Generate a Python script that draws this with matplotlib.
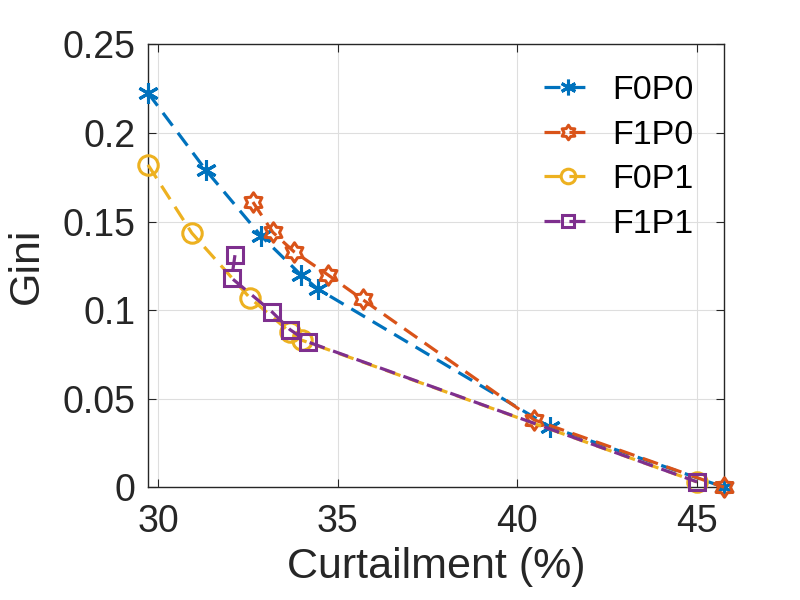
import matplotlib
matplotlib.use("Agg")
from matplotlib import pyplot as plt
from matplotlib.path import Path

plt.rcParams['font.family'] = ['Liberation Sans', 'DejaVu Sans']

# curtailment (%) and Gini for each case
x_f0p0 = [29.72, 31.33, 32.86, 33.97, 34.44, 40.92, 45.75]
y_f0p0 = [0.2226, 0.179, 0.142, 0.120, 0.112, 0.034, 0.0]

x_f1p0 = [32.64, 33.19, 33.78, 34.72, 35.69, 40.47, 45.75]
y_f1p0 = [0.161, 0.144, 0.133, 0.120, 0.106, 0.038, 0.0]

x_f0p1 = [29.72, 30.94, 32.55, 33.67, 34.0, 45.0]
y_f0p1 = [0.182, 0.1435, 0.107, 0.0876, 0.083, 0.003]

x_f1p1 = [32.14, 32.05, 33.17, 33.67, 34.17, 45.0]
y_f1p1 = [0.131, 0.118, 0.099, 0.089, 0.082, 0.003]

labels = ['F0P0', 'F1P0', 'F0P1', 'F1P1']
colors = ['#0072BD', '#D95319', '#EDB120', '#7E2F8E']

# matlab style hexagram, stubbier than matplotlib's star
hexa = Path.unit_regular_star(6, innerCircle=0.62)

fig = plt.figure(figsize=(8, 6), dpi=100)
ax = fig.add_axes([0.185, 0.188, 0.72, 0.738])

dash = (0, (5, 2.8))
series = [(x_f0p0, y_f0p0, (6, 2, 0), 15),
          (x_f1p0, y_f1p0, hexa, 14),
          (x_f0p1, y_f0p1, 'o', 14),
          (x_f1p1, y_f1p1, 's', 12)]
for (xs, ys, mk, ms), lab, c in zip(series, labels, colors):
    ax.plot(xs, ys, linestyle=dash, color=c, lw=2.3, marker=mk, ms=ms,
            mfc='none', mec=c, mew=2.2, label=lab, clip_on=False, zorder=3)

ax.set_xlim(29.72, 45.75)
ax.set_ylim(0, 0.25)
ax.set_xticks([30, 35, 40, 45])
ax.set_yticks([0, 0.05, 0.1, 0.15, 0.2, 0.25])
ax.set_yticklabels(['0', '0.05', '0.1', '0.15', '0.2', '0.25'])
ax.grid(True, color='#dedede', lw=0.8)
ax.set_axisbelow(True)
ax.tick_params(direction='in', top=True, right=True, labelsize=27,
               colors='#262626', length=6)
ax.tick_params(axis='x', pad=12)
ax.tick_params(axis='y', pad=9)
for s in ax.spines.values():
    s.set_color('#262626')
    s.set_linewidth(1)
ax.set_xlabel('Curtailment (%)', fontsize=31, color='#262626', labelpad=5)
ax.set_ylabel('Gini', fontsize=31, color='#262626', labelpad=11)

leg = ax.legend(loc='upper right', frameon=False, fontsize=24.5,
                handlelength=1.4, labelspacing=0.4, borderaxespad=0.5,
                handletextpad=0.6, markerscale=0.75)
for t in leg.get_texts():
    t.set_color('black')

fig.savefig('out.png', dpi=100)
